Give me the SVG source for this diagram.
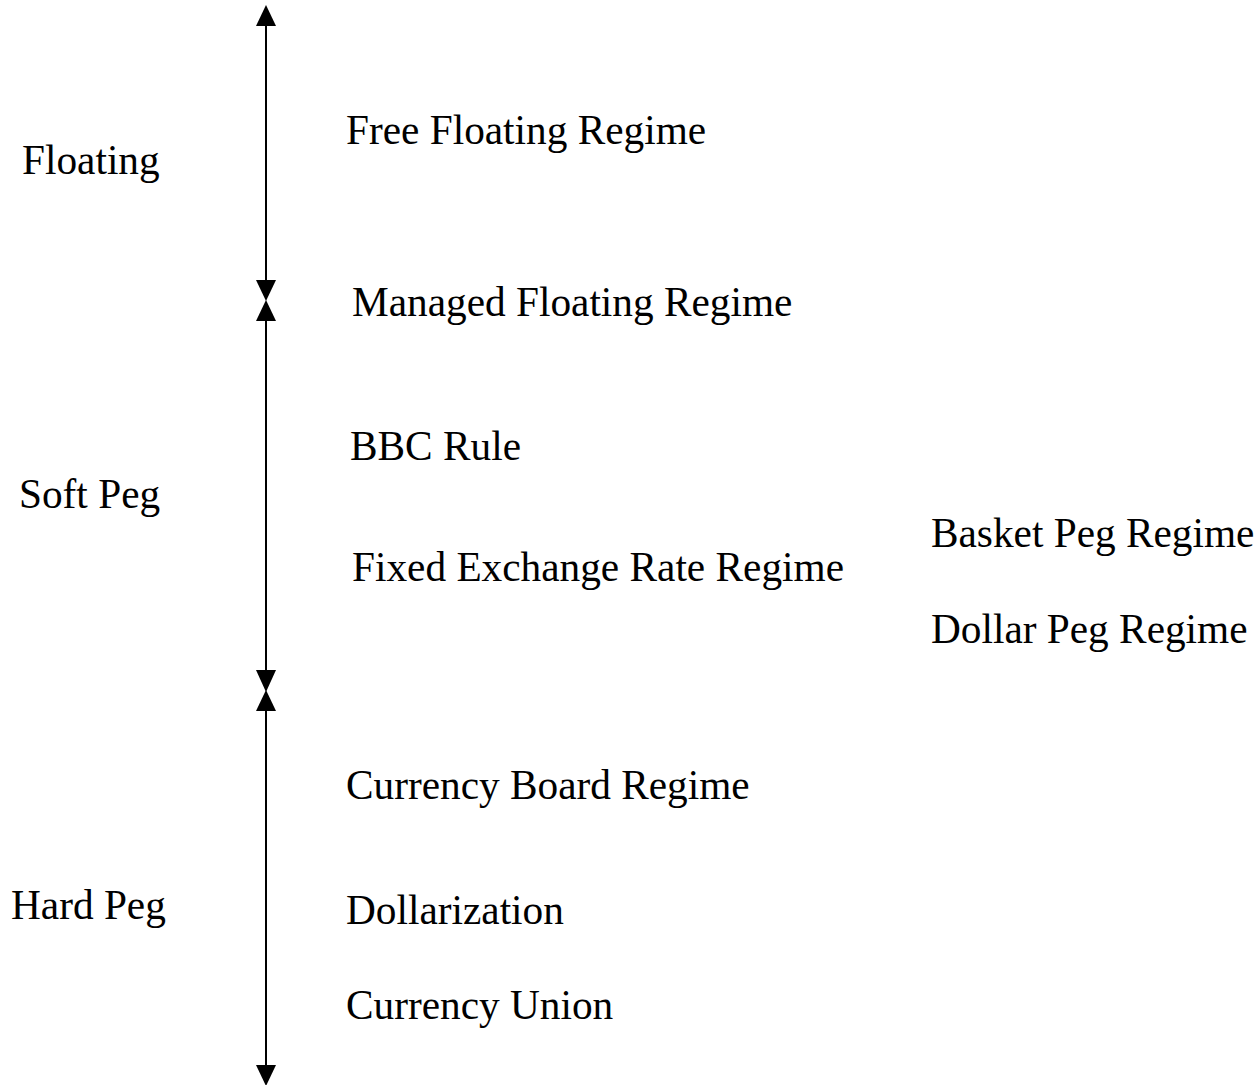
<svg xmlns="http://www.w3.org/2000/svg" width="1258" height="1085" viewBox="0 0 1258 1085">
<style>
text { font-family: "Liberation Serif", "Times New Roman", serif; font-size: 41.3px; fill: #000; }
.ax { stroke: #000; stroke-width: 2; fill: none; }
.ah { fill: #000; stroke: none; }
</style>
<rect width="1258" height="1085" fill="#fff"/>
<g id="connectors">
  <line class="ax" x1="266" y1="24" x2="266" y2="282"/>
  <polygon class="ah" points="266,5 256,26 276,26"/>
  <polygon class="ah" points="266,301 256,280 276,280"/>
  <line class="ax" x1="266" y1="319" x2="266" y2="672"/>
  <polygon class="ah" points="266,300 256,321 276,321"/>
  <polygon class="ah" points="266,692 256,670 276,670"/>
  <line class="ax" x1="266" y1="709" x2="266" y2="1067"/>
  <polygon class="ah" points="266,690 256,711 276,711"/>
  <polygon class="ah" points="266,1086 256,1065 276,1065"/>
</g>
<g id="floating"><text x="22" y="174">Floating</text></g>
<g id="soft-peg"><text x="19" y="508">Soft Peg</text></g>
<g id="hard-peg"><text x="11" y="919">Hard Peg</text></g>
<g id="free-floating"><text x="346" y="144">Free Floating Regime</text></g>
<g id="managed-floating"><text x="352" y="316">Managed Floating Regime</text></g>
<g id="bbc-rule"><text x="350" y="460">BBC Rule</text></g>
<g id="fixed-exchange"><text x="352" y="581">Fixed Exchange Rate Regime</text></g>
<g id="basket-peg"><text x="931" y="547">Basket Peg Regime</text></g>
<g id="dollar-peg"><text x="931" y="643">Dollar Peg Regime</text></g>
<g id="currency-board"><text x="346" y="799">Currency Board Regime</text></g>
<g id="dollarization"><text x="346" y="924">Dollarization</text></g>
<g id="currency-union"><text x="346" y="1019">Currency Union</text></g>
</svg>
